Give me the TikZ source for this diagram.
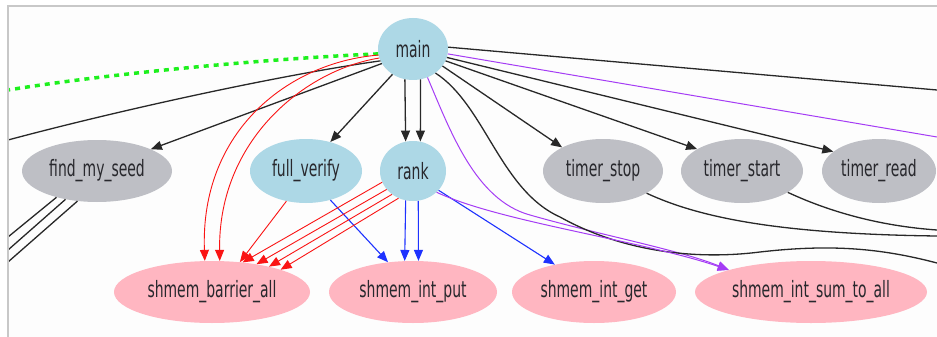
\documentclass[tikz,border=0pt]{standalone}
\usepackage{fontspec}
\setmainfont{DejaVu Sans}[FakeStretch=0.62]
\usepackage{tikz}
\usetikzlibrary{shapes.geometric}
\usetikzlibrary{arrows.meta}

\definecolor{fnblue}{RGB}{173,216,230}
\definecolor{fngray}{RGB}{190,191,197}
\definecolor{fnpink}{RGB}{255,182,193}
\definecolor{fntext}{RGB}{40,40,45}
\definecolor{edgeblack}{RGB}{40,40,40}
\definecolor{edgered}{RGB}{250,20,20}
\definecolor{edgeblue}{RGB}{30,50,255}
\definecolor{edgepurple}{RGB}{165,60,245}
\definecolor{dotgreen}{RGB}{30,240,30}
\definecolor{framegray}{RGB}{200,200,200}
\definecolor{panel}{RGB}{253,253,253}

\tikzset{
  fn/.style={ellipse, inner sep=0pt, text=fntext, font=\fontsize{22.5}{24}\selectfont},
  fnroot/.style={fn, fill=fnblue},
  fnext/.style={fn, fill=fngray},
  fnlib/.style={fn, fill=fnpink, minimum height=62pt},
  tip/.style={-{Triangle[length=11pt,width=9pt]}},
  blackcall/.style={draw=edgeblack, line width=1.3pt},
  redcall/.style={draw=edgered, line width=0.9pt, tip},
  bluecall/.style={draw=edgeblue, line width=1.1pt, tip},
  purplecall/.style={draw=edgepurple, line width=1pt},
}

\begin{document}
\begin{tikzpicture}[x=1pt,y=1pt,yscale=-1,xscale=1]
\useasboundingbox (0,0) rectangle (937,337);

%Frame
\fill[white] (0,0) rectangle (937,337);
\fill[panel] (8,6) rectangle (937,337);
\draw[framegray, line width=2pt] (8,337) -- (8,6) -- (937,6);

\begin{scope}
\clip (9,7) rectangle (937,337);

%Shape: Ellipse -- top
\node[fnroot, minimum width=70pt, minimum height=62pt] (main) at (413,49) {main};

%Shape: Ellipse -- middle row
\node[fnext, minimum width=150pt, minimum height=62pt] (findseed) at (97,171) {find\_my\_seed};
\node[fnroot, minimum width=112pt, minimum height=64pt] (fullverify) at (306,171) {full\_verify};
\node[fnroot, minimum width=66pt, minimum height=60pt] (rank) at (413,171) {rank};
\node[fnext, minimum width=120pt, minimum height=64pt] (tstop) at (603,171) {timer\_stop};
\node[fnext, minimum width=122pt, minimum height=64pt] (tstart) at (742,171) {timer\_start};
\node[fnext, minimum width=114pt, minimum height=64pt] (tread) at (879,171) {timer\_read};

%Shape: Ellipse -- bottom row
\node[fnlib, minimum width=196pt] (barrier) at (212,292) {shmem\_barrier\_all};
\node[fnlib, minimum width=168pt] (intput) at (413,292) {shmem\_int\_put};
\node[fnlib, minimum width=164pt] (intget) at (594,292) {shmem\_int\_get};
\node[fnlib, minimum width=232pt] (sumall) at (811,292) {shmem\_int\_sum\_to\_all};

% loose ends running off the border
\coordinate (offG) at (8,90);
\coordinate (offL) at (8,140);
\coordinate (offLa) at (8,237);
\coordinate (offLb) at (8,250);
\coordinate (offLc) at (8,262);
\coordinate (offR1) at (937,90);
\coordinate (offR2) at (937,137);
\coordinate (offR3) at (937,263);
\coordinate (offR4) at (937,236);
\coordinate (offR5) at (937,230);

%Curve Lines -- main
\draw[dotgreen, line width=3.5pt, dash pattern=on 5pt off 5pt] (main.188) .. controls (280,58) and (120,72) .. (offG);
\draw[blackcall] (main.200) .. controls (280,75) and (120,110) .. (offL);
\draw[blackcall, tip] (main.205) -- (findseed.22);
\draw[redcall] (main.190) .. controls (290,62) and (200,130) .. (barrier.103);
\draw[redcall] (main.195) .. controls (305,70) and (218,140) .. (barrier.76);
\draw[blackcall, tip] (main.231) -- (fullverify.50);
\draw[blackcall, tip] (main.255) -- (rank.104);
\draw[blackcall, tip] (main.284) -- (rank.76);
\draw[purplecall, tip] (main.297) .. controls (450,130) and (475,200) .. (530,215) .. controls (600,235) and (680,250) .. (sumall.165);
\draw[blackcall] (main.313) .. controls (485,105) and (500,190) .. (560,217) .. controls (610,245) and (680,262) .. (760,252) .. controls (830,244) and (880,248) .. (offR3);
\draw[blackcall, tip] (main.330) -- (tstop.150);
\draw[blackcall, tip] (main.340) -- (tstart.154);
\draw[blackcall, tip] (main.346) -- (tread.157);
\draw[purplecall] (main.352) -- (offR2);
\draw[blackcall] (main.3) -- (offR1);

%Straight Lines -- middle row
\draw[blackcall] (findseed.213) -- (offLa);
\draw[blackcall] (findseed.222) -- (offLb);
\draw[blackcall] (findseed.237) -- (offLc);
\draw[blackcall] (tstop.333) .. controls (700,218) and (780,234) .. (offR4);
\draw[blackcall] (tstart.335) .. controls (830,212) and (880,226) .. (offR5);

\draw[redcall] (fullverify.237) -- (barrier.47);
\draw[bluecall] (fullverify.310) -- (intput.130);

\foreach \s/\e in {200/44, 215/32, 228/24, 242/18}
  \draw[redcall] (rank.\s) -- (barrier.\e);
\draw[bluecall] (rank.256) -- (intput.105);
\draw[bluecall] (rank.280) -- (intput.80);
\draw[bluecall] (rank.323) -- (intget.145);
\draw[purplecall, tip] (rank.318) .. controls (500,222) and (640,240) .. (sumall.165);
\end{scope}

\end{tikzpicture}
\end{document}
